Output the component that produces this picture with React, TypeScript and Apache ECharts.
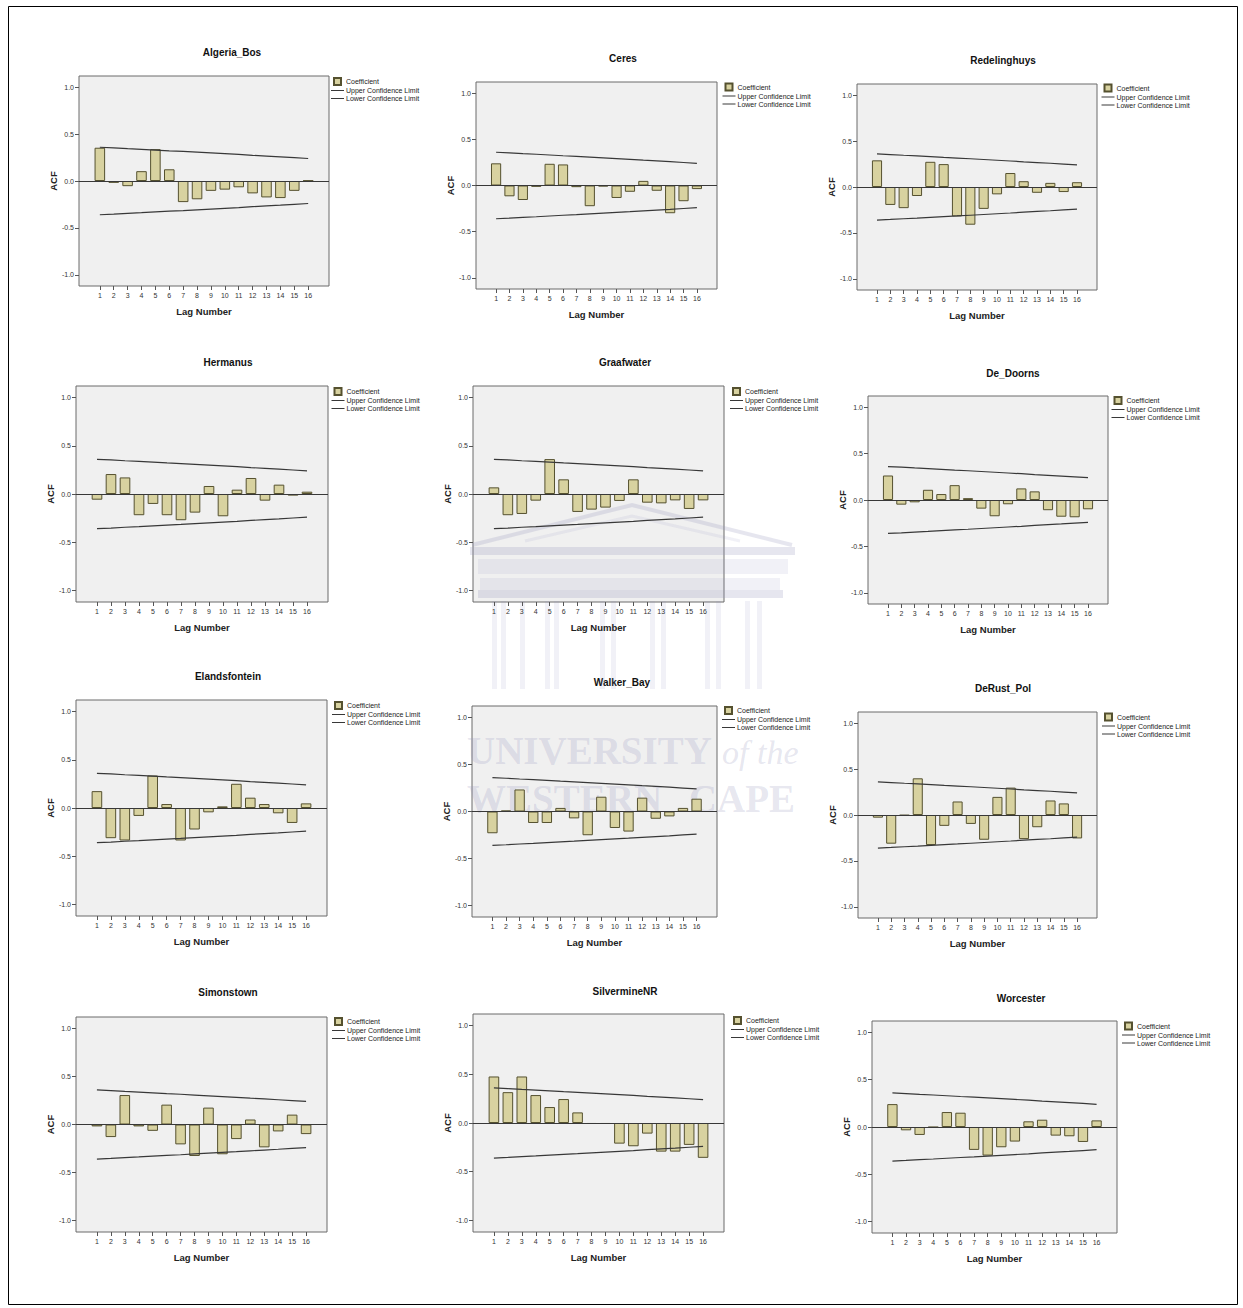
import React, { useEffect, useRef } from "react";
import * as echarts from "echarts";

// ---------- data ----------
const lagLabels = ["1", "2", "3", "4", "5", "6", "7", "8", "9", "10", "11", "12", "13", "14", "15", "16"];
const yTickValues = [-1, -0.5, 0, 0.5, 1];

const upperConfidenceLimit = [0.36, 0.353, 0.345, 0.338, 0.33, 0.322, 0.315, 0.307, 0.299, 0.291, 0.283, 0.274, 0.266, 0.258, 0.249, 0.24];
const lowerConfidenceLimit = [-0.36, -0.353, -0.345, -0.338, -0.33, -0.322, -0.315, -0.307, -0.299, -0.291, -0.283, -0.274, -0.266, -0.258, -0.249, -0.24];

const algeriaBos = [0.355, -0.02, -0.055, 0.105, 0.34, 0.125, -0.225, -0.195, -0.105, -0.092, -0.067, -0.132, -0.175, -0.182, -0.105, 0.005];
const ceres = [0.24, -0.117, -0.157, -0.014, 0.235, 0.228, -0.018, -0.224, -0.01, -0.135, -0.068, 0.05, -0.057, -0.3, -0.17, -0.039];
const redelinghuys = [0.29, -0.195, -0.23, -0.098, 0.274, 0.249, -0.32, -0.41, -0.238, -0.08, 0.152, 0.063, -0.063, 0.045, -0.055, 0.052];
const hermanus = [-0.059, 0.207, 0.172, -0.22, -0.103, -0.22, -0.272, -0.193, 0.083, -0.231, 0.045, 0.166, -0.069, 0.097, -0.017, 0.024];
const graafwater = [0.069, -0.22, -0.207, -0.069, 0.362, 0.152, -0.186, -0.162, -0.141, -0.072, 0.152, -0.09, -0.097, -0.066, -0.155, -0.066];
const deDoorns = [0.264, -0.05, -0.025, 0.11, 0.064, 0.16, 0.02, -0.093, -0.175, -0.046, 0.125, 0.093, -0.11, -0.18, -0.186, -0.1];
const elandsfontein = [0.175, -0.313, -0.337, -0.082, 0.337, 0.041, -0.337, -0.223, -0.045, 0.017, 0.251, 0.107, 0.041, -0.055, -0.155, 0.048];
const walkerBay = [-0.231, 0.01, 0.234, -0.122, -0.122, 0.038, -0.073, -0.252, 0.157, -0.175, -0.213, 0.147, -0.077, -0.052, 0.038, 0.136];
const deRustPol = [-0.029, -0.312, -0.005, 0.399, -0.327, -0.118, 0.147, -0.097, -0.269, 0.197, 0.298, -0.262, -0.133, 0.158, 0.126, -0.255];
const simonstown = [-0.02, -0.131, 0.307, -0.02, -0.066, 0.207, -0.207, -0.328, 0.176, -0.31, -0.152, 0.052, -0.238, -0.072, 0.103, -0.1];
const silvermineNR = [0.478, 0.317, 0.478, 0.287, 0.164, 0.246, 0.109, -0.01, -0.01, -0.212, -0.239, -0.109, -0.294, -0.294, -0.225, -0.358];
const worcester = [0.242, -0.035, -0.084, -0.003, 0.158, 0.151, -0.242, -0.302, -0.214, -0.154, 0.06, 0.077, -0.091, -0.098, -0.158, 0.07];

const stationNames = [
  "Algeria_Bos", "Ceres", "Redelinghuys",
  "Hermanus", "Graafwater", "De_Doorns",
  "Elandsfontein", "Walker_Bay", "DeRust_Pol",
  "Simonstown", "SilvermineNR", "Worcester",
];
const stationValues = [
  algeriaBos, ceres, redelinghuys,
  hermanus, graafwater, deDoorns,
  elandsfontein, walkerBay, deRustPol,
  simonstown, silvermineNR, worcester,
];

const legendNames = ["Coefficient", "Upper Confidence Limit", "Lower Confidence Limit"];

// ---------- layout (pixel positions of each panel) ----------
const panelLayout = [
  { l: 79, t: 76, r: 329, b: 286, tx: 232, ty: 52, lx: 331, ly: 81 },
  { l: 476, t: 82, r: 717, b: 289, tx: 623, ty: 58, lx: 722.5, ly: 86.5 },
  { l: 857, t: 84, r: 1097, b: 290, tx: 1003, ty: 60, lx: 1101.5, ly: 87.5 },
  { l: 76, t: 386, r: 328, b: 602, tx: 228, ty: 362, lx: 331.5, ly: 391 },
  { l: 473, t: 386, r: 724, b: 602, tx: 625, ty: 362, lx: 730, ly: 391 },
  { l: 868, t: 396, r: 1108, b: 604, tx: 1013, ty: 373, lx: 1111.5, ly: 400 },
  { l: 76, t: 700, r: 327, b: 916, tx: 228, ty: 676, lx: 332, ly: 705 },
  { l: 472, t: 706, r: 717, b: 917, tx: 622, ty: 682, lx: 722, ly: 710 },
  { l: 858, t: 712, r: 1097, b: 918, tx: 1003, ty: 688, lx: 1102, ly: 716.5 },
  { l: 76, t: 1017, r: 327, b: 1232, tx: 228, ty: 992, lx: 332, ly: 1021 },
  { l: 473, t: 1014, r: 724, b: 1232, tx: 625, ty: 991, lx: 731, ly: 1020 },
  { l: 872, t: 1021, r: 1117, b: 1233, tx: 1021, ty: 998, lx: 1122, ly: 1025.5 },
];

const FONT = 'Arial, "Liberation Sans", Helvetica, sans-serif';
const SERIF = '"Liberation Serif", "DejaVu Serif", serif';
const BAR_FILL = "#d8d2a0";
const BAR_EDGE = "#55512f";
const LINE_COLOR = "#383838";

function buildOption() {
  const grid: any[] = [];
  const xAxis: any[] = [];
  const yAxis: any[] = [];
  const series: any[] = [];
  const legend: any[] = [];
  const graphic: any[] = [];

  const categories = ["", ...lagLabels, " "];

  panelLayout.forEach((p, i) => {
    const values = stationValues[i];
    grid.push({
      left: p.l,
      top: p.t,
      width: p.r - p.l,
      height: p.b - p.t,
      show: true,
      backgroundColor: "#f0f0f0",
      borderColor: "#6a6a6a",
      borderWidth: 1,
      containLabel: false,
    });
    xAxis.push({
      gridIndex: i,
      type: "category",
      position: "bottom",
      data: categories,
      boundaryGap: true,
      axisLine: { show: false, onZero: false },
      axisTick: {
        show: true,
        alignWithLabel: true,
        length: 4,
        interval: (_idx: number, val: string) => String(val).trim() !== "",
        lineStyle: { color: "#555" },
      },
      axisLabel: { interval: 0, fontSize: 7, color: "#333", margin: 6, fontFamily: FONT },
      splitLine: { show: false },
      name: "Lag Number",
      nameLocation: "middle",
      nameGap: 20,
      nameTextStyle: { fontSize: 9.5, fontWeight: "bold", color: "#222", fontFamily: FONT },
    });
    yAxis.push({
      gridIndex: i,
      type: "value",
      position: "left",
      min: -1.12,
      max: 1.12,
      axisLine: { show: false, onZero: false },
      splitLine: { show: false },
      axisTick: { show: true, length: 4, customValues: yTickValues, lineStyle: { color: "#555" } },
      axisLabel: {
        customValues: yTickValues,
        fontSize: 7,
        color: "#333",
        margin: 5,
        fontFamily: FONT,
        formatter: (v: number) => v.toFixed(1),
      },
      name: "ACF",
      nameLocation: "middle",
      nameGap: 21,
      nameTextStyle: { fontSize: 9.5, fontWeight: "bold", color: "#222", fontFamily: FONT },
    });
    series.push({
      type: "bar",
      name: "Coefficient",
      xAxisIndex: i,
      yAxisIndex: i,
      barWidth: "76%",
      silent: true,
      data: values.map((v, k) => [lagLabels[k], v]),
      itemStyle: { color: BAR_FILL, borderColor: BAR_EDGE, borderWidth: 1 },
      markLine: {
        silent: true,
        symbol: "none",
        label: { show: false },
        lineStyle: { color: LINE_COLOR, width: 1, type: "solid" },
        data: [{ yAxis: 0 }],
      },
      z: 2,
    });
    series.push({
      type: "line",
      name: "Upper Confidence Limit",
      xAxisIndex: i,
      yAxisIndex: i,
      symbol: "none",
      showSymbol: false,
      silent: true,
      data: upperConfidenceLimit.map((v, k) => [lagLabels[k], v]),
      lineStyle: { color: LINE_COLOR, width: 1.2 },
      itemStyle: { color: LINE_COLOR },
      z: 3,
    });
    series.push({
      type: "line",
      name: "Lower Confidence Limit",
      xAxisIndex: i,
      yAxisIndex: i,
      symbol: "none",
      showSymbol: false,
      silent: true,
      data: lowerConfidenceLimit.map((v, k) => [lagLabels[k], v]),
      lineStyle: { color: LINE_COLOR, width: 1.2 },
      itemStyle: { color: LINE_COLOR },
      z: 3,
    });
    legend.push({
      orient: "vertical",
      left: p.lx,
      top: p.ly - 4,
      padding: 0,
      itemWidth: 13,
      itemHeight: 7,
      itemGap: 1,
      symbolKeepAspect: true,
      selectedMode: false,
      textStyle: { fontSize: 7, color: "#222", fontFamily: FONT, padding: [0, 0, 0, -3] },
      data: [
        { name: legendNames[0], icon: "path://M0 0H10V10H0Z" },
        { name: legendNames[1], icon: "path://M0 0H26V2H0Z", itemStyle: { color: LINE_COLOR, borderWidth: 0 } },
        { name: legendNames[2], icon: "path://M0 0H26V2H0Z", itemStyle: { color: LINE_COLOR, borderWidth: 0 } },
      ],
    });
    graphic.push({
      type: "text",
      x: p.tx,
      y: p.ty,
      silent: true,
      style: {
        text: stationNames[i],
        font: `bold 10px ${FONT}`,
        fill: "#111",
        align: "center",
        verticalAlign: "middle",
        textAlign: "center",
        textVerticalAlign: "middle",
      },
    });
  });

  // outer frame of the page
  graphic.push({
    type: "rect",
    silent: true,
    shape: { x: 8.5, y: 6.5, width: 1229, height: 1298 },
    style: { fill: "none", stroke: "#000", lineWidth: 1 },
    z: 0,
  });

  // faint watermark (building + university name)
  const wm = "rgba(150,150,190,0.24)";
  const wmSoft = "rgba(150,150,190,0.13)";
  const wmGroup: any[] = [
    { type: "polyline", shape: { points: [[472, 545], [632, 505], [792, 545]] }, style: { stroke: wm, lineWidth: 4, fill: "none" } },
    { type: "polyline", shape: { points: [[525, 541], [632, 516], [740, 541]] }, style: { stroke: wmSoft, lineWidth: 3, fill: "none" } },
    { type: "rect", shape: { x: 470, y: 547, width: 325, height: 8 }, style: { fill: wm } },
    { type: "rect", shape: { x: 478, y: 559, width: 310, height: 15 }, style: { fill: wmSoft } },
    { type: "rect", shape: { x: 480, y: 578, width: 300, height: 12 }, style: { fill: wmSoft } },
    { type: "rect", shape: { x: 478, y: 590, width: 305, height: 8 }, style: { fill: wm } },
  ];
  const colX = [492, 501, 520, 545, 554, 600, 611, 650, 661, 705, 716, 745, 757];
  colX.forEach((cx) => {
    wmGroup.push({ type: "rect", shape: { x: cx, y: 601, width: 5, height: 88 }, style: { fill: wmSoft } });
  });
  wmGroup.push(
    { type: "text", x: 467, y: 750, style: { text: "UNIVERSITY", font: `bold 39px ${SERIF}`, fill: wm, verticalAlign: "middle", textVerticalAlign: "middle" } },
    { type: "text", x: 722, y: 752, style: { text: "of the", font: `italic 34px ${SERIF}`, fill: wm, verticalAlign: "middle", textVerticalAlign: "middle" } },
    { type: "text", x: 467, y: 798, style: { text: "WESTERN", font: `bold 39px ${SERIF}`, fill: wm, verticalAlign: "middle", textVerticalAlign: "middle" } },
    { type: "text", x: 795, y: 798, style: { text: "CAPE", font: `bold 39px ${SERIF}`, fill: wm, align: "right", textAlign: "right", verticalAlign: "middle", textVerticalAlign: "middle" } },
  );
  graphic.push({ type: "group", silent: true, z: 100, children: wmGroup });

  return {
    animation: false,
    backgroundColor: "#ffffff",
    grid,
    xAxis,
    yAxis,
    series,
    legend,
    graphic,
  };
}

export default function App() {
  const ref = useRef<HTMLDivElement | null>(null);
  useEffect(() => {
    if (!ref.current) return;
    const chart = echarts.init(ref.current, undefined, { renderer: "svg" });
    chart.setOption(buildOption() as any);
    return () => {
      chart.dispose();
    };
  }, []);
  return (
    <div
      ref={ref}
      style={{ position: "absolute", left: 0, top: 0, width: 1243, height: 1308 }}
    />
  );
}
